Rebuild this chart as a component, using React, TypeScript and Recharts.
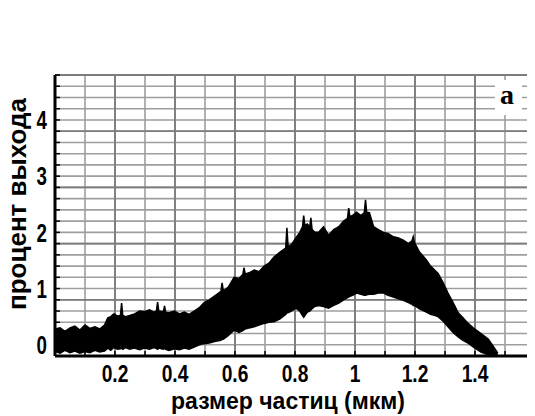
import React from 'react';
import { ComposedChart, Area, XAxis, YAxis, CartesianGrid } from 'recharts';

const sizes = [
  0.0, 0.017, 0.033, 0.05, 0.066, 0.083, 0.1, 0.116, 0.133, 0.149, 0.165, 0.176, 0.186, 0.196, 0.209,
  0.218, 0.222, 0.226, 0.235, 0.249, 0.265, 0.282, 0.298, 0.315, 0.33, 0.338, 0.342, 0.346, 0.355, 0.362,
  0.365, 0.369, 0.38, 0.398, 0.415, 0.431, 0.447, 0.464, 0.481, 0.497, 0.514, 0.535, 0.553, 0.557, 0.561,
  0.577, 0.597, 0.613, 0.626, 0.63, 0.634, 0.647, 0.664, 0.68, 0.697, 0.713, 0.73, 0.75, 0.769, 0.773,
  0.777, 0.788, 0.803, 0.816, 0.825, 0.829, 0.833, 0.841, 0.849, 0.853, 0.857, 0.866, 0.879, 0.895, 0.912,
  0.929, 0.946, 0.962, 0.975, 0.979, 0.983, 0.992, 1.005, 1.02, 1.031, 1.035, 1.039, 1.048, 1.062, 1.078,
  1.095, 1.11, 1.128, 1.145, 1.161, 1.178, 1.19, 1.194, 1.198, 1.215, 1.238, 1.252, 1.267, 1.277, 1.294,
  1.31, 1.327, 1.344, 1.36, 1.377, 1.394, 1.42, 1.444, 1.46, 1.476,
];

const upper = [
  0.48, 0.5, 0.44, 0.5, 0.53, 0.46, 0.55, 0.49, 0.52, 0.48, 0.55, 0.68, 0.7, 0.75, 0.71,
  0.72, 0.94, 0.72, 0.7, 0.72, 0.75, 0.8, 0.79, 0.82, 0.78, 0.8, 0.96, 0.8, 0.79, 0.8,
  0.89, 0.78, 0.77, 0.8, 0.75, 0.78, 0.74, 0.8, 0.86, 0.95, 1.0, 1.08, 1.15, 1.3, 1.16,
  1.22, 1.4, 1.38, 1.45, 1.57, 1.46, 1.48, 1.53, 1.5, 1.6, 1.65, 1.76, 1.85, 1.92, 2.28,
  1.95, 1.98, 2.1, 2.2, 2.3, 2.5, 2.32, 2.35, 2.3, 2.46, 2.25, 2.2, 2.2, 2.3, 2.15,
  2.25, 2.3, 2.4, 2.45, 2.63, 2.48, 2.5, 2.56, 2.5, 2.55, 2.78, 2.56, 2.55, 2.3, 2.25,
  2.2, 2.18, 2.12, 2.1, 2.06, 2.0, 2.05, 2.12, 2.02, 1.85, 1.71, 1.6, 1.52, 1.47, 1.3,
  1.12, 0.95, 0.77, 0.68, 0.58, 0.5, 0.4, 0.3, 0.18, 0.05,
];

const lower = [
  0.08, 0.05, 0.1, 0.06, 0.09, 0.05, 0.08, 0.06, 0.1, 0.07, 0.09, 0.14, 0.1, 0.15, 0.12,
  0.13, 0.14, 0.12, 0.15, 0.12, 0.14, 0.11, 0.14, 0.12, 0.15, 0.13, 0.12, 0.14, 0.13, 0.12,
  0.14, 0.12, 0.1, 0.13, 0.11, 0.14, 0.12, 0.16, 0.2, 0.22, 0.23, 0.26, 0.28, 0.3, 0.3,
  0.36, 0.46, 0.42, 0.45, 0.47, 0.48, 0.5, 0.52, 0.55, 0.58, 0.6, 0.61, 0.66, 0.74, 0.77,
  0.77, 0.8, 0.85, 0.8, 0.72, 0.69, 0.72, 0.78, 0.8, 0.82, 0.84, 0.88, 0.9, 0.88, 0.85,
  0.9, 0.94, 1.0, 1.04, 1.05, 1.06, 1.08, 1.12, 1.1, 1.08, 1.08, 1.09, 1.1, 1.1, 1.12,
  1.12, 1.08, 1.05, 1.02, 0.99, 0.95, 0.92, 0.9, 0.9, 0.84, 0.78, 0.74, 0.72, 0.7, 0.62,
  0.52, 0.42, 0.34, 0.28, 0.23, 0.16, 0.07, 0.02, 0.0, 0.0,
];

const xTicks = [0, 0.1, 0.2, 0.3, 0.4, 0.5, 0.6, 0.7, 0.8, 0.9, 1.0, 1.1, 1.2, 1.3, 1.4, 1.5, 1.6];
const xMajor = [0.2, 0.4, 0.6, 0.8, 1.0, 1.2, 1.4];
const xLabels = ['0.2', '0.4', '0.6', '0.8', '1', '1.2', '1.4'];
const yTicks = [
  0, 0.2, 0.4, 0.6, 0.8, 1, 1.2, 1.4, 1.6, 1.8, 2, 2.2, 2.4, 2.6, 2.8, 3, 3.2, 3.4, 3.6, 3.8, 4, 4.2,
  4.4, 4.6, 4.8, 5,
];
const yMajor = [0, 1, 2, 3, 4, 5];
const yLabels = ['0', '1', '2', '3', '4'];

const xTitle = 'размер частиц (мкм)';
const yTitle = 'процент выхода';
const panelLetter = 'a';

const data = sizes.map((s, i) => ({ size: s, band: [lower[i], upper[i]] }));

const tickFont = '"Liberation Sans", Arial, sans-serif';

const near = (a: number, b: number) => Math.abs(a - b) < 1e-6;

const XTick = (props: any) => {
  const { x, y, payload } = props;
  const idx = xMajor.findIndex((v) => near(v, payload.value));
  return (
    <g>
      <line x1={x} x2={x} y1={y} y2={y - 5} stroke="#000" strokeWidth={1.5} />
      {idx >= 0 && (
        <text
          transform={`translate(${x},${y + 26}) scale(0.8,1)`}
          textAnchor="middle"
          fontFamily={tickFont}
          fontWeight="bold"
          fontSize={24}
          fill="#000"
        >
          {xLabels[idx]}
        </text>
      )}
    </g>
  );
};

const YTick = (props: any) => {
  const { x, y, payload } = props;
  const idx = yMajor.findIndex((v) => near(v, payload.value));
  return (
    <g>
      <line x1={x} x2={x + 5} y1={y} y2={y} stroke="#000" strokeWidth={1.5} />
      {idx >= 0 && idx < yLabels.length && (
        <text
          transform={`translate(${x - 8},${y - 2}) scale(0.72,1)`}
          textAnchor="end"
          fontFamily={tickFont}
          fontWeight="bold"
          fontSize={26}
          fill="#000"
        >
          {yLabels[idx]}
        </text>
      )}
    </g>
  );
};

export default function App() {
  return (
    <div style={{ position: 'relative', width: 527, height: 408 }}>
      <ComposedChart
        width={527}
        height={408}
        data={data}
        margin={{ top: 67, right: 0, left: 46, bottom: 59 }}
      >
        <CartesianGrid stroke="#9e9e9e" strokeWidth={1.6} horizontalValues={yTicks} verticalValues={xTicks} />
        <CartesianGrid stroke="#7c7c7c" strokeWidth={1.8} horizontalValues={yMajor} verticalValues={xMajor} />
        <XAxis
          dataKey="size"
          type="number"
          domain={[0, 1.6]}
          ticks={xTicks}
          height={1}
          tickSize={0}
          tickMargin={0}
          tickLine={false}
          axisLine={{ stroke: '#000', strokeWidth: 3 }}
          tick={<XTick />}
          interval={0}
          allowDataOverflow
        />
        <YAxis
          type="number"
          domain={[0, 5]}
          ticks={yTicks}
          width={1}
          tickSize={0}
          tickMargin={0}
          tickLine={false}
          axisLine={{ stroke: '#000', strokeWidth: 3 }}
          tick={<YTick />}
          interval={0}
          allowDataOverflow
        />
        <Area
          type="linear"
          dataKey="band"
          stroke="#000"
          strokeWidth={1.5}
          fill="#000"
          fillOpacity={1}
          dot={false}
          activeDot={false}
          isAnimationActive={false}
        />
      </ComposedChart>
      <svg
        width={535}
        height={416}
        style={{ position: 'absolute', left: -8, top: -8, pointerEvents: 'none' }}
      >
        <text x={288} y={409} textAnchor="middle" fontFamily='"Liberation Sans", Arial, sans-serif' fontWeight="bold" fontSize={23} fill="#000">
          {xTitle}
        </text>
        <text
          transform="translate(26,204) rotate(-90)"
          textAnchor="middle"
          fontFamily='"Liberation Sans", Arial, sans-serif'
          fontWeight="bold"
          fontSize={26}
          fill="#000"
        >
          {yTitle}
        </text>
        <rect x={495} y={80} width={27} height={35} fill="#fff" />
        <text x={507} y={104} textAnchor="middle" fontFamily='"Liberation Serif", "Times New Roman", serif' fontWeight="bold" fontSize={28} fill="#000">
          {panelLetter}
        </text>
      </svg>
    </div>
  );
}
